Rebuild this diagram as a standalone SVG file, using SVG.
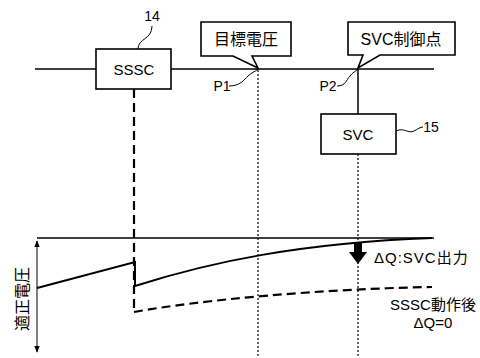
<svg xmlns="http://www.w3.org/2000/svg" width="480" height="358" viewBox="0 0 480 358">
<defs>
<style>
.t{font-family:"Liberation Sans","Noto Sans CJK JP",sans-serif;fill:#000}
.box{fill:#fff;stroke:#000;stroke-width:1.6}
.ln{fill:none;stroke:#000;stroke-width:1.5}
.thin{fill:none;stroke:#000;stroke-width:1}
.dot{fill:none;stroke:#000;stroke-width:1.2;stroke-dasharray:2 2}
.dash{fill:none;stroke:#000;stroke-width:2.2;stroke-dasharray:9 5}
</style>
<marker id="ah" viewBox="0 0 10 10" refX="9" refY="5" markerWidth="7" markerHeight="7" orient="auto-start-reverse" markerUnits="userSpaceOnUse">
<path d="M0,1 L10,5 L0,9 Z" fill="#000"/>
</marker>
</defs>
<rect width="480" height="358" fill="#fff"/>
<g id="connectors">
<line class="ln" x1="35" y1="69" x2="434" y2="69"/>
<line class="ln" x1="358" y1="69" x2="358" y2="114"/>
<line class="dash" x1="134" y1="89" x2="134" y2="312"/>
<line class="dot" x1="258" y1="70" x2="258" y2="358"/>
<line class="dot" x1="358" y1="154" x2="358" y2="358"/>
<path class="thin" d="M152,26 C152,40 138,38 138,49"/>
<path class="thin" d="M396,131 C404,127 408,134 414,131 C418,129 420,127 423,127"/>
<path class="thin" d="M229,86 C240,86 244,80 248,76 C252,72 255,72 258,69"/>
<path class="thin" d="M337,86 C346,86 346,80 350,76 C353,72 355,72 358,69"/>
</g>
<g id="sssc">
<rect class="box" x="96" y="49" width="75" height="40"/>
<text class="t" x="134" y="74.5" font-size="15" text-anchor="middle">SSSC</text>
<text class="t" x="152" y="21" font-size="14" text-anchor="middle">14</text>
</g>
<g id="target">
<path class="box" d="M201,22 H291 V56 H252 L258,68 L233,56 H201 Z"/>
<text class="t" x="246" y="45" font-size="16" text-anchor="middle">目標電圧</text>
<text class="t" x="222" y="91" font-size="14" text-anchor="middle">P1</text>
</g>
<g id="svcpoint">
<path class="box" d="M348,22 H455 V55 H380 L358,68 L363,55 H348 Z"/>
<text class="t" x="401" y="45" font-size="16" text-anchor="middle">SVC制御点</text>
<text class="t" x="328" y="91" font-size="14" text-anchor="middle">P2</text>
</g>
<g id="svc">
<rect class="box" x="321" y="114" width="75" height="40"/>
<text class="t" x="358" y="139.5" font-size="15" text-anchor="middle">SVC</text>
<text class="t" x="431" y="132" font-size="14" text-anchor="middle">15</text>
</g>
<g id="graph">
<line class="ln" x1="37" y1="238" x2="434" y2="238"/>
<line class="thin" x1="37" y1="241" x2="37" y2="352" marker-start="url(#ah)" marker-end="url(#ah)"/>
<text class="t" transform="translate(28,299) rotate(-90)" font-size="16" text-anchor="middle">適正電圧</text>
<path fill="none" stroke="#000" stroke-width="2" d="M37,288 L135,262 L135,286 C210,262 300,243 432,238"/>
<path class="dash" d="M134,312 C200,300 320,289 432,287"/>
<path d="M354,243 H362 V252 H367 L358,264 L349,252 H354 Z" fill="#000"/>
<text class="t" x="374" y="263" font-size="15" letter-spacing="1">ΔQ:SVC出力</text>
<text class="t" x="433" y="310" font-size="15" text-anchor="middle">SSSC動作後</text>
<text class="t" x="433" y="328" font-size="15" text-anchor="middle">ΔQ=0</text>
</g>
</svg>
